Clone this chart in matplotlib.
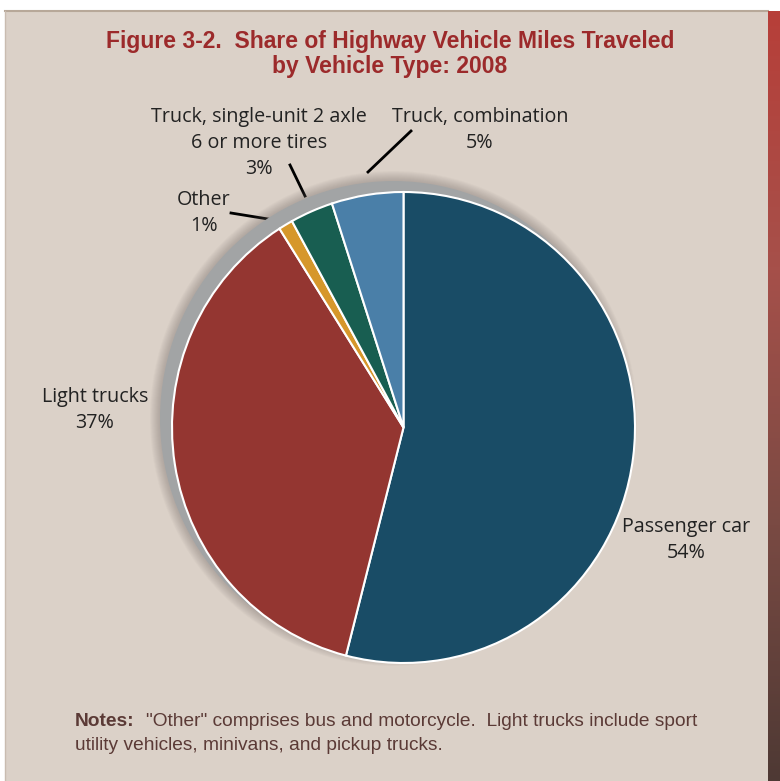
import numpy as np
import matplotlib.pyplot as plt
from matplotlib.patches import Rectangle, Ellipse
from matplotlib.colors import LinearSegmentedColormap

# data
categories = ['Passenger car', 'Light trucks', 'Other',
              'Truck, single-unit 2 axle\n6 or more tires', 'Truck, combination']
shares = [54, 37, 1, 3, 5]
colors = ['#194c66', '#943631', '#d6972b', '#185e51', '#4a7fa8']

W, H = 780, 781
fig = plt.figure(figsize=(7.8, 7.81), dpi=100)
fig.patch.set_facecolor('white')
ax = fig.add_axes([0, 0, 1, 1])
ax.set_xlim(0, W)
ax.set_ylim(0, H)
ax.axis('off')


def Y(y):
    return H - y


# panel and side bar
ax.add_patch(Rectangle((5, 0), 763, Y(11), facecolor='#dbd1c8', edgecolor='none', zorder=0))
ax.plot([5, 768], [Y(11), Y(11)], color='#b7a899', lw=1.5, zorder=1)
ax.plot([5, 5], [0, Y(11)], color='#c9bcb0', lw=1, zorder=1)
grad = np.linspace(0, 1, 256).reshape(-1, 1)
bar_cmap = LinearSegmentedColormap.from_list('bar', ['#b73f39', '#a6504a', '#7a4a43', '#4e3934'])
ax.imshow(grad, cmap=bar_cmap, extent=(768, 780, 0, Y(11)), aspect='auto', origin='upper', zorder=1)

# pie in its own axes (slightly taller than wide, like the original)
cx, cy, rx, ry = 403.5, 427.5, 231.5, 235.5
pad = 1.2
pax = fig.add_axes([(cx - rx * pad) / W, (Y(cy) - ry * pad) / H,
                    2 * rx * pad / W, 2 * ry * pad / H])
pax.patch.set_alpha(0)

# soft shadow, shifted up-left
sx, sy = -10 / rx, 9 / ry
for i in range(10):
    d = (12 - i) / rx
    pax.add_patch(Ellipse((sx, sy), 2 * (1 + d), 2 * (1 + d * rx / ry), facecolor='#6e6560',
                          alpha=0.04, edgecolor='none', zorder=1))
pax.add_patch(Ellipse((sx, sy), 2 * (1 + 2 / rx), 2 * (1 + 2 / ry),
                      facecolor='#a2a4a5', edgecolor='none', zorder=2))

wedges, _ = pax.pie(shares, colors=colors, startangle=90, counterclock=False, radius=1,
                    wedgeprops=dict(edgecolor='white', linewidth=1.5))
for w in wedges:
    w.set_zorder(4)
pax.set_xlim(-pad, pad)
pax.set_ylim(-pad, pad)
pax.set_aspect('auto')
pax.axis('off')

lab_font = dict(family=['Open Sans', 'DejaVu Sans'], fontsize=14.2, color='#222222',
                ha='center', va='center', linespacing=1.42, zorder=5)
ax.text(686, Y(540), 'Passenger car\n54%', **lab_font)
ax.text(95, Y(410), 'Light trucks\n37%', **lab_font)
ax.text(204, Y(213), 'Other\n1%', **lab_font)
ax.text(259, Y(143), 'Truck, single-unit 2 axle\n6 or more tires\n3%', **lab_font)
ax.text(480, Y(130), 'Truck, combination\n5%', **lab_font)

# leader lines
for (x0, y0), (x1, y1) in [((368, 172), (411, 131)), ((290, 165), (305, 196)),
                           ((231, 213), (268, 219))]:
    ax.plot([x0, x1], [Y(y0), Y(y1)], color='black', lw=2, zorder=5)

title_font = ['Liberation Sans Narrow', 'Liberation Sans', 'DejaVu Sans']
ax.text(390, Y(54), 'Figure 3-2.  Share of Highway Vehicle Miles Traveled\nby Vehicle Type: 2008',
        family=title_font, fontsize=16.5, fontweight='bold', color='#9c2a2b',
        ha='center', va='center', linespacing=1.1, zorder=5)

note_col = '#5b3a36'
ax.text(75, Y(721), 'Notes:', family=title_font, fontsize=13.8, fontweight='bold',
        color=note_col, ha='left', va='center', zorder=5)
ax.text(146, Y(721), '"Other" comprises bus and motorcycle.  Light trucks include sport',
        family=title_font, fontsize=13.8, color=note_col, ha='left', va='center', zorder=5)
ax.text(75, Y(745), 'utility vehicles, minivans, and pickup trucks.',
        family=title_font, fontsize=13.8, color=note_col, ha='left', va='center', zorder=5)

fig.savefig('out.png', dpi=100, facecolor=fig.get_facecolor())
